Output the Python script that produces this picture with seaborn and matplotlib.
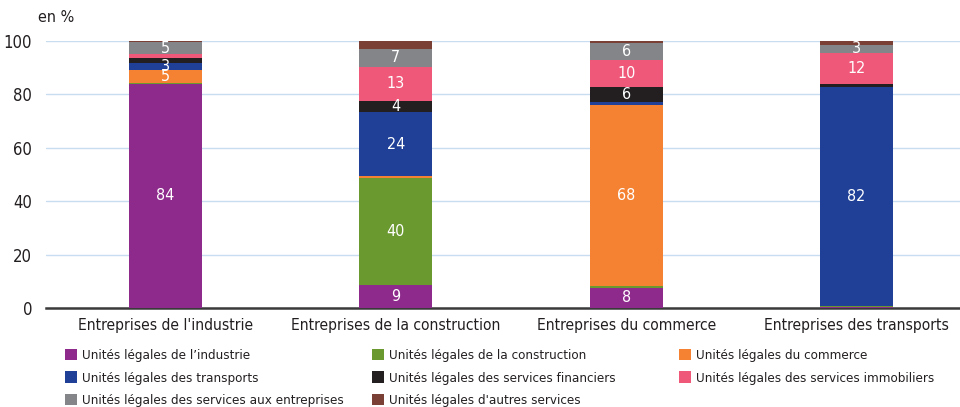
import numpy as np
import matplotlib
matplotlib.use("Agg")
import matplotlib.pyplot as plt
import seaborn as sns
from matplotlib.patches import Patch

sns.set_style("white")
plt.rcParams['font.family'] = ['Liberation Sans Narrow', 'DejaVu Sans']
plt.rcParams['font.stretch'] = 'condensed'

# data (en %)
categories = ["Entreprises de l'industrie", "Entreprises de la construction",
              "Entreprises du commerce", "Entreprises des transports"]
series = ["Unités légales de l’industrie", "Unités légales de la construction",
          "Unités légales du commerce", "Unités légales des transports",
          "Unités légales des services financiers", "Unités légales des services immobiliers",
          "Unités légales des services aux entreprises", "Unités légales d'autres services"]
industrie = [84, 8.8, 7.5, 0.2]
construction = [0.4, 40, 0.7, 0.4]
commerce = [4.6, 0.6, 68, 0.3]
transports = [2.6, 24, 1.1, 82]
financiers = [1.9, 4, 5.6, 0.9]
immobiliers = [1.5, 13, 10, 11.8]
services_ent = [4.6, 6.6, 6.2, 2.9]
autres = [0.4, 3, 0.9, 1.5]
values = [industrie, construction, commerce, transports,
          financiers, immobiliers, services_ent, autres]
colors = ["#8E2A8C", "#6A992F", "#F58233", "#1F4096",
          "#231F20", "#F0587A", "#848588", "#7A3F35"]

fig = plt.figure(figsize=(9.6, 4.07), dpi=100)
ax = fig.add_axes([46/960, 1 - 308/407, (960 - 46)/960, (308 - 41)/407])

bottom = np.zeros(len(categories))
for k, (vals, col) in enumerate(zip(values, colors)):
    sns.barplot(x=categories, y=vals, bottom=bottom, color=col, width=0.317,
                saturation=1, ax=ax, zorder=3, linewidth=0)
    # value labels (none on the last series)
    if k < len(values) - 1:
        for i, v in enumerate(vals):
            if v >= 2.5:
                ax.text(i, bottom[i] + v / 2, f"{v:.0f}", ha="center", va="center",
                        color="white", fontsize=11.5, zorder=4)
    bottom = bottom + np.array(vals)

ax.set_xlim(-0.518, -0.518 + 914 / 230.4)
ax.set_ylim(0, 100)
ax.set_yticks(range(0, 101, 20))
ax.yaxis.grid(True, color="#C9DDF0", linewidth=1, zorder=0)
ax.set_axisbelow(True)
for s in ["top", "right", "left"]:
    ax.spines[s].set_visible(False)
ax.spines["bottom"].set_color("#3A3A3A")
ax.spines["bottom"].set_linewidth(1.8)
ax.tick_params(axis="x", length=0, labelsize=11.2, colors="#231F20", pad=7)
ax.tick_params(axis="y", length=0, labelsize=12, colors="#231F20", pad=10)
ax.set_xlabel("")
ax.set_ylabel("")
fig.text(38/960, 1 - 18/407, "en %", fontsize=11.5, va="center", color="#231F20")

# legend: three columns placed on a grid
handles = [Patch(facecolor=c, edgecolor="none") for c in colors]
columns = [[0, 3, 6], [1, 4, 7], [2, 5]]
col_x = [65, 372, 679]
for xs, idx in zip(col_x, columns):
    fig.legend([handles[i] for i in idx], [series[i] for i in idx],
               loc="upper left", bbox_to_anchor=(xs/960, 1 - 349/407),
               frameon=False, fontsize=9.6, handlelength=0.9, handleheight=0.9,
               handletextpad=0.4, labelspacing=0.7, borderpad=0, borderaxespad=0,
               labelcolor="#231F20")

fig.savefig("out.png", dpi=100)
